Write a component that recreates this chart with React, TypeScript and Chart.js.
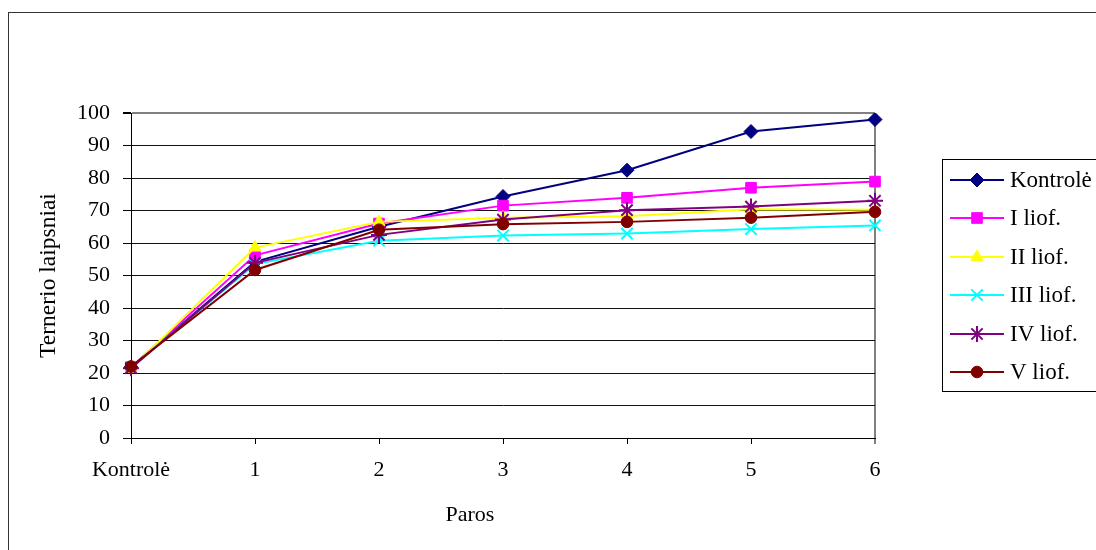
import React, { useEffect, useRef } from 'react';
import { Chart, registerables } from 'chart.js';
import { drawPoint } from 'chart.js/helpers';

Chart.register(...registerables);

const categories = ['Kontrolė', '1', '2', '3', '4', '5', '6'];
const kontrole = [21.8, 54.2, 65.0, 74.3, 82.4, 94.3, 98.0];
const liof1 = [21.8, 56.2, 66.0, 71.5, 73.9, 77.0, 78.9];
const liof2 = [21.3, 58.6, 66.5, 67.8, 68.2, 70.4, 70.2];
const liof3 = [21.8, 53.5, 60.7, 62.3, 62.9, 64.3, 65.4];
const liof4 = [21.5, 53.9, 62.5, 67.2, 70.1, 71.2, 73.0];
const liof5 = [22.0, 51.7, 64.1, 65.8, 66.5, 67.8, 69.6];
const yMin = 0;
const yMax = 100;
const yStep = 10;
const xTitle = 'Paros';
const yTitle = 'Ternerio laipsniai';

const FONT = "'Liberation Serif', 'Times New Roman', serif";

const seriesDefs = [
  { label: 'Kontrolė', data: kontrole, color: '#000080', style: 'rectRot', r: 7, bw: 1 },
  { label: 'I liof.', data: liof1, color: '#FF00FF', style: 'rect', r: 7.5, bw: 1 },
  { label: 'II liof.', data: liof2, color: '#FFFF00', style: 'triangle', r: 7, bw: 1 },
  { label: 'III liof.', data: liof3, color: '#00FFFF', style: 'crossRot', r: 8, bw: 2 },
  { label: 'IV liof.', data: liof4, color: '#800080', style: 'star', r: 8, bw: 2 },
  { label: 'V liof.', data: liof5, color: '#800000', style: 'circle', r: 5.8, bw: 1 },
];

const legendBox = { x: 933, y: 146, w: 300, h: 232, first: 21, step: 38.4, lineStart: 8, lineEnd: 62, marker: 35, text: 68 };

const boxLegend = {
  id: 'boxLegend',
  afterDraw(chart: any) {
    const ctx = chart.ctx;
    const o = legendBox;
    ctx.save();
    ctx.strokeStyle = '#000';
    ctx.lineWidth = 1;
    ctx.strokeRect(o.x + 0.5, o.y + 0.5, o.w, o.h);
    chart.data.datasets.forEach((ds: any, i: number) => {
      const cy = Math.round(o.y + o.first + i * o.step);
      ctx.strokeStyle = ds.borderColor;
      ctx.lineWidth = ds.borderWidth;
      ctx.beginPath();
      ctx.moveTo(o.x + o.lineStart, cy);
      ctx.lineTo(o.x + o.lineEnd, cy);
      ctx.stroke();
      ctx.fillStyle = ds.pointBackgroundColor;
      ctx.strokeStyle = ds.pointBorderColor;
      ctx.lineWidth = ds.pointBorderWidth;
      drawPoint(ctx, { pointStyle: ds.pointStyle, radius: ds.pointRadius, borderWidth: ds.pointBorderWidth, rotation: 0 } as any, o.x + o.marker, cy);
      ctx.fillStyle = '#000';
      ctx.font = `23px ${FONT}`;
      ctx.textBaseline = 'middle';
      ctx.textAlign = 'left';
      ctx.fillText(ds.label, o.x + o.text, cy + 1);
    });
    ctx.restore();
  },
};

const xTitlePlugin = {
  id: 'xTitlePlugin',
  afterDraw(chart: any) {
    const ctx = chart.ctx;
    const a = chart.chartArea;
    ctx.save();
    ctx.fillStyle = '#000';
    ctx.font = `22px ${FONT}`;
    ctx.textAlign = 'center';
    ctx.textBaseline = 'middle';
    ctx.fillText(xTitle, a.left + (a.right - a.left) * 0.4556, a.bottom + 77);
    ctx.restore();
  },
};

export default function App() {
  const ref = useRef<HTMLCanvasElement | null>(null);
  useEffect(() => {
    if (!ref.current) return;
    const last = categories.length - 1;
    const chart = new Chart(ref.current, {
      type: 'line',
      data: {
        labels: categories,
        datasets: seriesDefs.map((s, i) => ({
          label: s.label,
          data: s.data,
          borderColor: s.color,
          backgroundColor: s.color,
          borderWidth: 2,
          pointStyle: s.style as any,
          pointRadius: s.r,
          pointHoverRadius: s.r,
          pointBackgroundColor: s.color,
          pointBorderColor: s.color,
          pointBorderWidth: s.bw,
          tension: 0,
          fill: false,
          order: seriesDefs.length - i,
        })),
      },
      options: {
        responsive: false,
        animation: false,
        events: [],
        layout: { padding: { left: 0, right: 221, top: 100, bottom: 0 } },
        plugins: {
          legend: { display: false },
          tooltip: { enabled: false },
          title: { display: false },
        },
        scales: {
          x: {
            type: 'category',
            offset: false,
            afterFit: (s: any) => { s.height = 112; },
            grid: {
              display: true,
              drawOnChartArea: true,
              drawTicks: true,
              tickLength: 6,
              color: (c: any) => (c.index === last ? '#808080' : 'rgba(0,0,0,0)'),
              lineWidth: (c: any) => (c.index === last ? 2 : 1),
              tickColor: '#000',
              tickWidth: 1,
            },
            border: { display: true, color: '#000', width: 1 },
            ticks: {
              color: '#000',
              padding: 13,
              maxRotation: 0,
              autoSkip: false,
              font: { family: FONT, size: 22 },
            },
          },
          y: {
            type: 'linear',
            min: yMin,
            max: yMax,
            afterFit: (s: any) => { s.width = 122; },
            grid: {
              drawTicks: true,
              tickLength: 8,
              color: (c: any) => (c.tick && c.tick.value === yMax ? '#808080' : '#111'),
              lineWidth: (c: any) => (c.tick && c.tick.value === yMax ? 2 : 1),
              tickColor: '#000',
            },
            border: { display: true, color: '#000', width: 1 },
            ticks: {
              stepSize: yStep,
              color: '#000',
              padding: 13,
              font: { family: FONT, size: 22 },
            },
            title: {
              display: true,
              text: yTitle,
              color: '#000',
              padding: { top: 26, bottom: 0 },
              font: { family: FONT, size: 23.5, weight: 'normal' },
            },
          },
        },
      },
      plugins: [boxLegend, xTitlePlugin],
    } as any);
    return () => chart.destroy();
  }, []);

  return (
    <div
      style={{
        position: 'absolute',
        left: 8,
        top: 12,
        width: 1087,
        height: 537,
        borderTop: '1px solid #333',
        borderLeft: '1px solid #333',
        background: '#fff',
      }}
    >
      <canvas ref={ref} width={1087} height={537} style={{ display: 'block' }} />
    </div>
  );
}
